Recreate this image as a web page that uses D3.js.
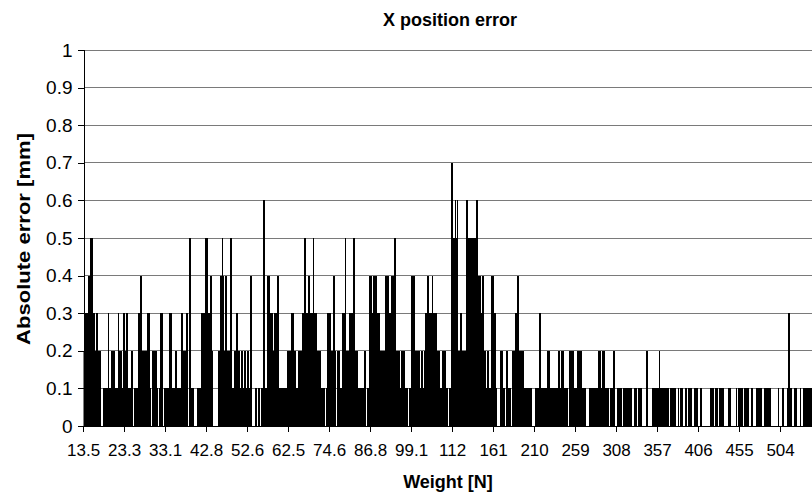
<!DOCTYPE html>
<html>
<head>
<meta charset="utf-8">
<script src="https://cdn.jsdelivr.net/npm/d3@7/dist/d3.min.js"></script>
<style>
  body { margin: 0; background: #fff; }
  svg text { font-family: Arial, "Liberation Sans", sans-serif; fill: #000; }
</style>
</head>
<body>
<div id="chart"></div>
<script>
// x axis labels, one every 50 weights
const weightTicks = ["13.5","23.3","33.1","42.8","52.6","62.5","74.6","86.8","99.1",
                     "112","161","210","259","308","357","406","455","504"];
const errorTicks = [0, 0.1, 0.2, 0.3, 0.4, 0.5, 0.6, 0.7, 0.8, 0.9, 1];

// absolute error in tenths of a mm, one row per 50 weights (row starts at the tick label)
const errorRows = [
  /* 13.5 */ [2,2,3,3,3,3,4,4,4,5, 5,5,3,3,3,2,3,3,2,2, 2,2,0,0,1,1,1,1,1,1, 3,3,1,1,2,2,1,2,2,1, 1,1,3,3,2,2,2,1,1,3],
  /* 23.3 */ [3,2,3,3,3,1,1,1,2,2, 2,0,1,1,1,1,1,3,3,3, 4,4,2,2,2,2,2,2,3,3, 3,3,1,0,2,2,2,2,2,2, 1,0,1,1,3,3,3,3,0,1],
  /* 33.1 */ [1,1,1,1,1,3,3,3,1,1, 1,1,2,2,2,1,1,1,1,1, 3,3,2,2,2,3,3,3,0,5, 5,5,1,1,1,0,0,0,0,1, 1,1,0,1,3,3,3,3,3,5],
  /* 42.8 */ [5,5,3,3,3,4,4,2,0,0, 0,0,0,0,2,2,2,4,4,5, 5,4,2,4,4,4,2,2,2,5, 5,2,1,1,2,2,3,3,3,2, 2,1,1,2,2,1,2,2,2,1],
  /* 52.6 */ [2,2,1,2,4,4,0,0,0,0, 1,1,0,1,1,1,0,1,1,1, 6,6,1,1,4,4,4,4,3,3, 3,3,2,3,3,3,4,4,4,1, 1,1,1,1,1,1,1,1,1,2],
  /* 62.5 */ [2,2,2,2,3,3,3,2,0,2, 1,1,2,2,2,2,2,3,3,3, 5,5,3,3,4,4,4,3,3,3, 5,5,3,3,3,2,2,2,2,2, 1,1,1,1,1,0,1,1,3,3],
  /* 74.6 */ [3,3,2,2,2,4,4,2,2,0, 2,2,2,1,1,1,3,3,3,5, 5,2,2,2,3,3,3,3,3,5, 5,3,2,2,2,1,1,1,1,1, 1,1,2,2,2,0,1,1,1,4],
  /* 86.8 */ [4,4,3,3,4,4,4,4,3,3, 3,3,2,2,2,2,2,2,4,4, 4,4,4,3,3,4,4,4,4,5, 5,2,2,2,2,2,1,1,2,2, 2,2,1,1,1,1,0,1,1,1],
  /* 99.1 */ [4,4,4,4,4,2,2,2,2,2, 2,1,2,2,2,1,2,3,3,3, 4,4,3,3,3,4,4,3,3,3, 3,3,2,2,2,1,1,1,2,2, 2,2,1,1,1,0,1,1,1,7],
  /* 112  */ [7,5,5,5,6,5,6,2,2,2, 3,3,2,2,2,2,2,6,6,5, 5,5,5,5,5,5,5,5,5,6, 6,5,4,4,4,3,3,4,4,2, 2,1,1,2,2,1,1,2,4,4],
  /* 161  */ [4,3,3,1,1,0,0,0,0,2, 2,2,1,1,0,0,2,2,1,1, 1,1,0,2,2,2,2,3,3,4, 4,3,2,2,2,2,2,2,1,1, 1,1,1,1,1,1,1,1,0,0],
  /* 210  */ [0,1,1,1,1,1,3,3,1,1, 1,1,1,1,1,1,2,2,2,2, 1,1,1,1,1,1,1,1,1,2, 2,1,1,2,2,2,1,1,1,1, 1,0,1,2,2,2,2,2,2,1],
  /* 259  */ [1,1,2,2,2,2,2,2,2,1, 1,1,1,0,0,0,0,1,1,1, 1,1,1,1,1,1,1,1,2,2, 2,1,1,2,2,2,1,1,1,1, 1,0,0,1,1,1,2,2,2,0],
  /* 308  */ [0,1,1,1,1,1,1,0,1,1, 1,1,1,1,0,1,1,1,1,1, 0,0,1,1,1,1,0,1,1,1, 1,1,0,0,0,0,0,2,2,0, 0,0,0,0,1,1,1,1,1,1],
  /* 357  */ [1,1,2,2,1,1,1,1,1,1, 1,1,1,1,0,0,1,1,1,0, 1,1,1,0,0,1,1,0,1,1, 1,1,0,0,1,1,0,0,1,1, 1,1,1,0,0,1,1,1,1,1],
  /* 406  */ [0,0,1,1,1,0,0,0,0,0, 0,0,0,0,1,1,1,1,1,1, 0,1,1,1,0,0,1,1,1,1, 1,0,0,0,0,0,0,1,1,1, 0,0,0,0,0,0,1,1,0,1],
  /* 455  */ [1,1,1,1,1,0,1,1,1,1, 1,1,0,0,1,1,1,0,0,0, 0,1,1,1,1,1,1,1,0,0, 1,1,1,1,1,1,1,1,1,0, 0,0,0,0,0,0,0,1,1,0],
  /* 504  */ [0,0,1,1,1,0,0,0,1,1, 3,3,1,1,1,0,0,1,1,1, 1,0,0,0,1,1,0,0,1,1, 1,1,1,1,1,1,1,1,1]
];

const errors = errorRows.flat().map(d => d / 10);
const perTick = 50;

const width = 812, height = 497;
const plotLeft = 83.5, plotRight = 812, plotTop = 50, plotBottom = 426;
const step = 41 / perTick;
const font = "Arial, 'Liberation Sans', sans-serif";

const svg = d3.select("#chart").append("svg")
    .attr("width", width)
    .attr("height", height);

const x = d3.scaleBand()
    .domain(d3.range(errors.length))
    .range([plotLeft - step / 2, plotLeft - step / 2 + errors.length * step])
    .padding(0);

const y = d3.scaleLinear().domain([0, 1]).range([plotBottom, plotTop]);

// gridlines
svg.append("g")
  .selectAll("line")
  .data(errorTicks.filter(d => d > 0))
  .join("line")
    .attr("x1", plotLeft).attr("x2", plotRight)
    .attr("y1", d => y(d)).attr("y2", d => y(d))
    .attr("stroke", "#7a7a7a")
    .attr("stroke-width", 1)
    .attr("shape-rendering", "crispEdges");

svg.append("clipPath").attr("id", "plot")
  .append("rect")
    .attr("x", plotLeft).attr("y", plotTop)
    .attr("width", plotRight - plotLeft).attr("height", plotBottom - plotTop);

// bars
svg.append("g")
    .attr("clip-path", "url(#plot)")
  .selectAll("rect")
  .data(errors)
  .join("rect")
    .attr("x", (d, i) => x(i))
    .attr("width", x.bandwidth())
    .attr("y", d => y(d))
    .attr("height", d => y(0) - y(d))
    .attr("fill", "#000")
    .attr("shape-rendering", "crispEdges");

// y axis
const yAxis = d3.axisLeft(y)
    .tickValues(errorTicks)
    .tickFormat(d => String(d))
    .tickSize(6)
    .tickPadding(5);

svg.append("g")
    .attr("transform", `translate(${plotLeft},0)`)
    .call(yAxis)
    .call(g => g.select(".domain").attr("stroke", "#000").attr("shape-rendering", "crispEdges"))
    .call(g => g.selectAll(".tick line").attr("stroke", "#000").attr("shape-rendering", "crispEdges"))
    .call(g => g.selectAll(".tick text")
        .attr("font-size", 19)
        .attr("font-family", font)
        .attr("fill", "#000"));

// x axis, a tick every 50 weights
const tickIdx = weightTicks.map((d, k) => k * perTick);
const xAxis = d3.axisBottom(x)
    .tickValues(tickIdx)
    .tickFormat((d, k) => weightTicks[k])
    .tickSize(6)
    .tickSizeOuter(0)
    .tickPadding(12);

svg.append("g")
    .attr("transform", `translate(0,${plotBottom})`)
    .call(xAxis)
    .call(g => g.select(".domain").attr("stroke", "#000").attr("d", `M${plotLeft},0.5H${plotRight}`))
    .call(g => g.selectAll(".tick line").attr("stroke", "#000").attr("shape-rendering", "crispEdges"))
    .call(g => g.selectAll(".tick text")
        .attr("font-size", 17)
        .attr("font-family", font)
        .attr("fill", "#000"));

// titles
svg.append("text")
    .attr("x", 450).attr("y", 26)
    .attr("text-anchor", "middle")
    .attr("font-weight", "bold")
    .attr("font-size", 18)
    .text("X position error");

svg.append("text")
    .attr("x", 448).attr("y", 488)
    .attr("text-anchor", "middle")
    .attr("font-weight", "bold")
    .attr("font-size", 18)
    .text("Weight [N]");

svg.append("text")
    .attr("transform", `translate(30,239) rotate(-90)`)
    .attr("text-anchor", "middle")
    .attr("font-weight", "bold")
    .attr("font-size", 19)
    .attr("textLength", 212)
    .attr("lengthAdjust", "spacingAndGlyphs")
    .text("Absolute error [mm]");
</script>
</body>
</html>
